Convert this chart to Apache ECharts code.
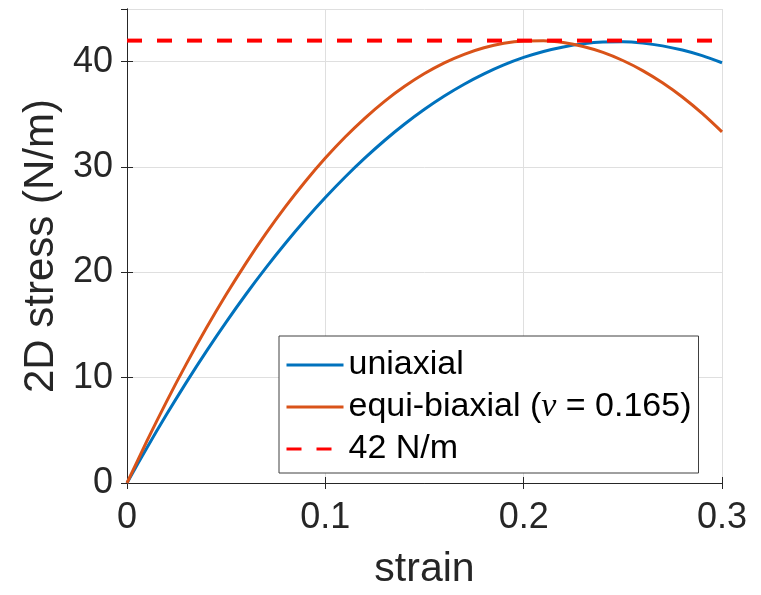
<!DOCTYPE html>
<html>
<head>
<meta charset="utf-8">
<script src="https://cdn.jsdelivr.net/npm/echarts@6/dist/echarts.min.js"></script>
<style>
  html, body { margin: 0; padding: 0; background: #fff; }
  #chart { width: 761px; height: 595px; }
</style>
</head>
<body>
<div id="chart"></div>
<script>
// strain values (x)
var strain = [0, 0.01, 0.02, 0.03, 0.04, 0.05, 0.06, 0.07, 0.08, 0.09, 0.10,
  0.11, 0.12, 0.13, 0.14, 0.15, 0.16, 0.17, 0.18, 0.19, 0.20,
  0.21, 0.22, 0.23, 0.24, 0.25, 0.26, 0.27, 0.28, 0.29, 0.30];
// 2D stress, uniaxial (N/m)
var uniaxial = [0, 3.33, 6.52, 9.58, 12.50, 15.28, 17.92, 20.42, 22.78, 25.01, 27.10,
  29.05, 30.86, 32.54, 34.08, 35.48, 36.74, 37.86, 38.84, 39.69, 40.40,
  40.97, 41.40, 41.70, 41.86, 41.88, 41.76, 41.50, 41.10, 40.57, 39.90];
// 2D stress, equi-biaxial (N/m)
var biaxial = [0, 3.97, 7.75, 11.33, 14.71, 17.89, 20.88, 23.67, 26.26, 28.65, 30.85,
  32.85, 34.65, 36.26, 37.66, 38.87, 39.89, 40.70, 41.32, 41.74, 41.96,
  41.99, 41.81, 41.44, 40.88, 40.11, 39.15, 37.99, 36.64, 35.08, 33.33];
// 42 N/m reference line
var limitX = [0, 0.3];
var limitY = [42, 42];

var names = ['uniaxial', 'equi-biaxial (ν = 0.165)', '42 N/m'];

function pairs(xs, ys) {
  var out = [];
  for (var i = 0; i < xs.length; i++) out.push([xs[i], ys[i]]);
  return out;
}

var font = '"Liberation Sans", Arial, Helvetica, sans-serif';
var axisColor = '#262626';
var gridColor = '#dfdfdf';

var chart = echarts.init(document.getElementById('chart'));
chart.setOption({
  animation: false,
  grid: { left: 127, right: 39, top: 9, bottom: 106 },
  legend: {
    orient: 'vertical',
    left: 279,
    top: 336,
    padding: [12, 7, 7, 6],
    itemGap: 8,
    itemWidth: 57,
    itemHeight: 14,
    backgroundColor: '#fff',
    borderColor: '#404040',
    borderWidth: 1,
    borderRadius: 0,
    data: names,
    itemStyle: { opacity: 0 },
    lineStyle: { width: 3 },
    formatter: function (name) {
      return name.replace('ν', '{nu|ν}');
    },
    textStyle: {
      fontFamily: font,
      fontSize: 34,
      color: '#000',
      rich: {
        nu: { fontFamily: '"Liberation Serif", "DejaVu Serif", serif', fontStyle: 'italic', fontSize: 34, color: '#000' }
      }
    }
  },
  xAxis: [{
    type: 'value',
    min: 0,
    max: 0.3,
    interval: 0.1,
    name: 'strain',
    nameLocation: 'middle',
    nameGap: 66,
    nameTextStyle: { fontFamily: font, fontSize: 41, color: axisColor },
    axisLine: { show: true, lineStyle: { color: axisColor, width: 1 } },
    axisTick: { show: true, inside: true, length: 6, lineStyle: { color: axisColor } },
    axisLabel: { fontFamily: font, fontSize: 36, color: axisColor, margin: 17 },
    splitLine: { show: true, lineStyle: { color: gridColor, width: 1 } }
  }, {
    type: 'value',
    position: 'top',
    min: 0,
    max: 0.3,
    interval: 0.1,
    axisLine: { show: true, lineStyle: { color: axisColor, width: 1 } },
    axisTick: { show: true, inside: true, length: 6, lineStyle: { color: axisColor } },
    axisLabel: { show: false },
    splitLine: { show: false }
  }],
  yAxis: [{
    type: 'value',
    min: 0,
    max: 45,
    interval: 10,
    name: '2D stress (N/m)',
    nameLocation: 'middle',
    nameGap: 52,
    nameTextStyle: { fontFamily: font, fontSize: 42, color: axisColor },
    axisLine: { show: true, lineStyle: { color: axisColor, width: 1 } },
    axisTick: { show: true, inside: true, length: 6, lineStyle: { color: axisColor } },
    axisLabel: { fontFamily: font, fontSize: 36, color: axisColor, margin: 14, showMaxLabel: false },
    splitLine: { show: true, lineStyle: { color: gridColor, width: 1 } }
  }, {
    type: 'value',
    position: 'right',
    min: 0,
    max: 45,
    interval: 10,
    axisLine: { show: true, lineStyle: { color: axisColor, width: 1 } },
    axisTick: { show: true, inside: true, length: 6, lineStyle: { color: axisColor } },
    axisLabel: { show: false },
    splitLine: { show: false }
  }],
  series: [{
    name: names[0],
    type: 'line',
    data: pairs(strain, uniaxial),
    symbol: 'none',
    smooth: 0.3,
    color: '#0072BD',
    lineStyle: { width: 3, color: '#0072BD' }
  }, {
    name: names[1],
    type: 'line',
    data: pairs(strain, biaxial),
    symbol: 'none',
    smooth: 0.3,
    color: '#D95319',
    lineStyle: { width: 3, color: '#D95319' }
  }, {
    name: names[2],
    type: 'line',
    data: pairs(limitX, limitY),
    symbol: 'none',
    color: '#FF0000',
    lineStyle: { width: 4, color: '#FF0000', type: [15, 15] }
  }]
});
</script>
</body>
</html>
